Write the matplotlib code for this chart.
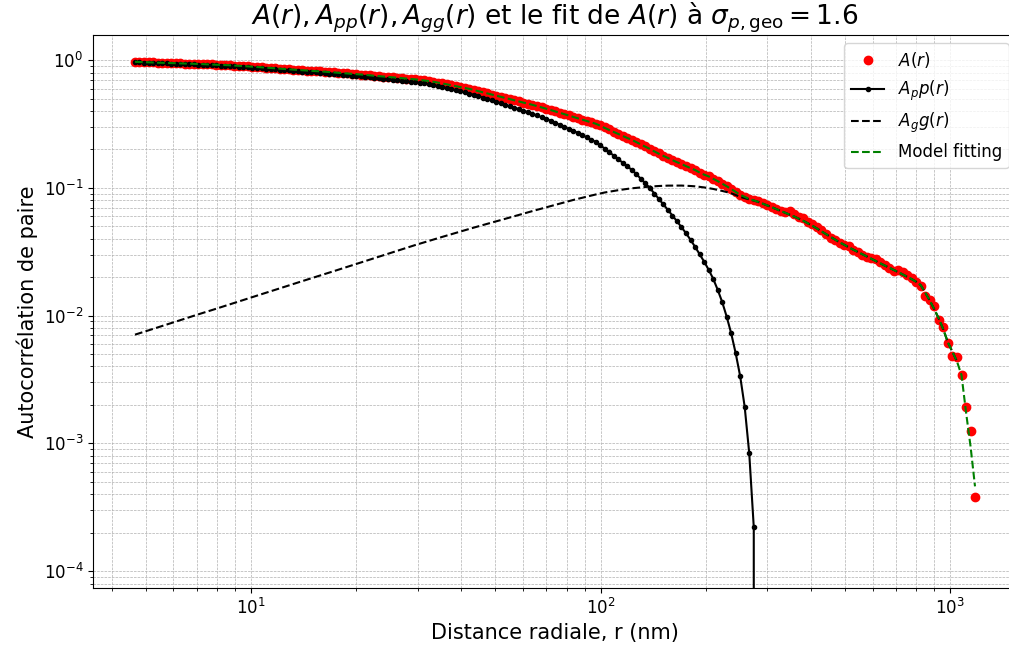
import matplotlib
matplotlib.use("Agg")
import matplotlib.pyplot as plt

# radial distances (nm)
r = [4.66, 4.80, 4.95, 5.10, 5.25, 5.41, 5.57, 5.74, 5.92, 6.09,
     6.28, 6.47, 6.66, 6.86, 7.07, 7.28, 7.50, 7.73, 7.96, 8.20,
     8.45, 8.71, 8.97, 9.24, 9.52, 9.81, 10.10, 10.41, 10.72, 11.04,
     11.38, 11.72, 12.07, 12.44, 12.81, 13.20, 13.60, 14.01, 14.43, 14.87,
     15.32, 15.78, 16.26, 16.75, 17.26, 17.78, 18.31, 18.87, 19.44, 20.02,
     20.63, 21.25, 21.89, 22.55, 23.23, 23.93, 24.65, 25.40, 26.17, 26.96,
     27.77, 28.61, 29.47, 30.37, 31.28, 32.22, 33.19, 34.20, 35.23, 36.30,
     37.39, 38.52, 39.67, 40.88, 42.10, 43.38, 44.68, 46.04, 47.43, 48.86,
     50.33, 51.85, 53.41, 55.04, 56.68, 58.41, 60.15, 61.99, 63.84, 65.79,
     67.76, 69.82, 71.91, 74.09, 76.31, 78.63, 80.98, 83.45, 85.96, 88.56,
     91.23, 93.97, 96.81, 99.75, 102.7, 105.9, 109.0, 112.3, 115.7, 119.2,
     122.8, 126.6, 130.3, 134.3, 138.3, 142.5, 146.8, 151.2, 155.8, 160.5,
     165.3, 170.3, 175.5, 180.8, 186.3, 191.9, 197.7, 203.7, 209.8, 216.1,
     222.7, 229.4, 236.3, 243.4, 250.8, 258.3, 266.1, 274.2, 282.5, 290.9,
     299.7, 308.8, 318.0, 327.7, 337.6, 347.8, 358.3, 369.1, 380.2, 391.7,
     403.6, 415.8, 428.2, 441.2, 454.5, 468.3, 482.4, 497.0, 512.0, 527.4,
     543.3, 559.7, 576.6, 594.1, 612.1, 630.4, 649.4, 669.0, 689.1, 710.0,
     731.4, 753.6, 776.3, 799.7, 823.8, 848.7, 874.2, 900.7, 928.0, 955.9,
     984.7, 1014, 1045, 1077, 1109, 1143, 1177]

A_data = [0.970, 0.967, 0.965, 0.962, 0.959, 0.956, 0.954, 0.951, 0.949, 0.946,
          0.944, 0.941, 0.939, 0.936, 0.934, 0.931, 0.929, 0.925, 0.922, 0.919,
          0.916, 0.912, 0.908, 0.903, 0.899, 0.894, 0.890, 0.884, 0.879, 0.874,
          0.869, 0.863, 0.858, 0.853, 0.848, 0.843, 0.838, 0.834, 0.830, 0.825,
          0.821, 0.816, 0.812, 0.807, 0.803, 0.798, 0.793, 0.788, 0.783, 0.777,
          0.772, 0.766, 0.761, 0.755, 0.750, 0.744, 0.739, 0.734, 0.729, 0.723,
          0.718, 0.713, 0.708, 0.701, 0.694, 0.686, 0.678, 0.668, 0.658, 0.647,
          0.637, 0.626, 0.616, 0.606, 0.596, 0.584, 0.573, 0.561, 0.549, 0.538,
          0.527, 0.516, 0.506, 0.495, 0.485, 0.475, 0.466, 0.456, 0.447, 0.437,
          0.427, 0.417, 0.408, 0.398, 0.388, 0.378, 0.369, 0.360, 0.352, 0.343,
          0.334, 0.326, 0.318, 0.310, 0.298, 0.287, 0.273, 0.265, 0.256, 0.247,
          0.238, 0.229, 0.220, 0.211, 0.203, 0.194, 0.186, 0.178, 0.171, 0.166,
          0.160, 0.154, 0.148, 0.143, 0.138, 0.132, 0.127, 0.123, 0.118, 0.113,
          0.108, 0.103, 0.0985, 0.0935, 0.0880, 0.0850, 0.0820, 0.0800, 0.0784, 0.0757,
          0.0737, 0.0706, 0.0679, 0.0661, 0.0649, 0.0655, 0.0626, 0.0593, 0.0578, 0.0544,
          0.0519, 0.0494, 0.0466, 0.0438, 0.0407, 0.0389, 0.0372, 0.0360, 0.0349, 0.0328,
          0.0313, 0.0300, 0.0289, 0.0284, 0.0279, 0.0264, 0.0250, 0.0237, 0.0225, 0.0226,
          0.0221, 0.0209, 0.0198, 0.0185, 0.0172, 0.0142, 0.0133, 0.0120, 0.00930, 0.00820,
          0.00615, 0.00487, 0.00474, 0.00346, 0.00193, 0.00126, 0.000383]

# the fit lies on the data up to r ~ 93 nm
fit = A_data[:102] + [
       0.318, 0.307, 0.295, 0.284, 0.274, 0.264, 0.255, 0.246,
       0.238, 0.228, 0.219, 0.210, 0.202, 0.193, 0.185, 0.178, 0.171, 0.165,
       0.159, 0.154, 0.148, 0.143, 0.138, 0.132, 0.127, 0.123, 0.118, 0.113,
       0.108, 0.103, 0.0980, 0.0931, 0.0883, 0.0851, 0.0820, 0.0798, 0.0777, 0.0753,
       0.0730, 0.0706, 0.0683, 0.0660, 0.0638, 0.0617, 0.0596, 0.0574, 0.0552, 0.0528,
       0.0505, 0.0481, 0.0457, 0.0435, 0.0414, 0.0394, 0.0375, 0.0359, 0.0343, 0.0329,
       0.0316, 0.0303, 0.0291, 0.0279, 0.0268, 0.0257, 0.0247, 0.0237, 0.0228, 0.0219,
       0.0210, 0.0201, 0.0193, 0.0184, 0.0173, 0.0151, 0.0131, 0.0112, 0.00944, 0.00777,
       0.00617, 0.00523, 0.00439, 0.00342, 0.00177, 0.000947, 0.000461]

Agg = [0.00710, 0.00729, 0.00748, 0.00768, 0.00788, 0.00809, 0.00831, 0.00853, 0.00875, 0.00898,
       0.00922, 0.00946, 0.00970, 0.00997, 0.01024, 0.01050, 0.01076, 0.01105, 0.01134, 0.01164,
       0.01195, 0.01227, 0.01259, 0.01293, 0.01327, 0.01362, 0.01398, 0.01435, 0.01472, 0.01511,
       0.01551, 0.01592, 0.01634, 0.01677, 0.01722, 0.01767, 0.01814, 0.01862, 0.01911, 0.01961,
       0.02013, 0.02064, 0.02117, 0.02173, 0.02230, 0.02289, 0.02350, 0.02412, 0.02475, 0.02541,
       0.02608, 0.02677, 0.02748, 0.02821, 0.02895, 0.02972, 0.03050, 0.03131, 0.03214, 0.03299,
       0.03386, 0.03475, 0.03567, 0.03658, 0.03752, 0.03844, 0.03938, 0.04035, 0.04134, 0.04236,
       0.04340, 0.04447, 0.04557, 0.04665, 0.04775, 0.04888, 0.05003, 0.05121, 0.05242, 0.05357,
       0.05474, 0.05603, 0.05735, 0.05870, 0.06009, 0.06151, 0.06296, 0.06439, 0.06586, 0.06736,
       0.06889, 0.07046, 0.07206, 0.07371, 0.07539, 0.07710, 0.07885, 0.08043, 0.08204, 0.08368,
       0.08535, 0.08706, 0.08880, 0.09042, 0.09206, 0.09340, 0.09475, 0.09595, 0.09716, 0.09822,
       0.09928, 0.1001, 0.1009, 0.1017, 0.1024, 0.1030, 0.1035, 0.1039, 0.1042, 0.1043,
       0.1044, 0.1043, 0.1040, 0.1035, 0.1029, 0.1020, 0.1009, 0.0996, 0.0982, 0.0965,
       0.0947, 0.0928, 0.0907, 0.0880, 0.0850, 0.0832, 0.0812, 0.0796, 0.0777, 0.0753,
       0.0730, 0.0706, 0.0683, 0.0660, 0.0638, 0.0617, 0.0596, 0.0574, 0.0552, 0.0528,
       0.0505, 0.0481, 0.0457, 0.0435, 0.0414, 0.0394, 0.0375, 0.0359, 0.0343, 0.0329,
       0.0316, 0.0303, 0.0291, 0.0279, 0.0268, 0.0257, 0.0247, 0.0237, 0.0228, 0.0219,
       0.0210, 0.0201, 0.0193, 0.0184, 0.0173, 0.0151, 0.0131, 0.0112, 0.00944, 0.00777,
       0.00617, 0.00523, 0.00439]

# Ap p(r) drops to zero past ~280 nm
App = [0.963, 0.960, 0.957, 0.954, 0.951, 0.948, 0.946, 0.943, 0.940, 0.937,
       0.935, 0.932, 0.929, 0.926, 0.924, 0.921, 0.918, 0.914, 0.911, 0.907,
       0.904, 0.899, 0.895, 0.890, 0.886, 0.881, 0.876, 0.870, 0.864, 0.859,
       0.854, 0.848, 0.842, 0.836, 0.831, 0.825, 0.820, 0.815, 0.811, 0.806,
       0.801, 0.796, 0.791, 0.786, 0.781, 0.775, 0.770, 0.764, 0.758, 0.752,
       0.746, 0.740, 0.734, 0.727, 0.721, 0.715, 0.709, 0.703, 0.697, 0.690,
       0.684, 0.678, 0.672, 0.665, 0.657, 0.648, 0.639, 0.628, 0.617, 0.605,
       0.594, 0.582, 0.570, 0.559, 0.548, 0.535, 0.523, 0.510, 0.497, 0.484,
       0.472, 0.460, 0.449, 0.437, 0.425, 0.414, 0.403, 0.392, 0.381, 0.369,
       0.358, 0.347, 0.336, 0.324, 0.313, 0.301, 0.290, 0.280, 0.270, 0.259,
       0.249, 0.2388, 0.2292, 0.2163, 0.2032, 0.1908, 0.1788, 0.1679, 0.1573, 0.1477,
       0.1384, 0.1281, 0.1180, 0.1086, 0.0998, 0.0904, 0.0818, 0.0743, 0.0672, 0.0608,
       0.0549, 0.0493, 0.0442, 0.0392, 0.0346, 0.0303, 0.0265, 0.0229, 0.0195, 0.0160,
       0.0128, 0.00982, 0.00727, 0.00508, 0.00334, 0.00193, 0.00084, 0.000221, 0.0]

fig = plt.figure(figsize=(10.09, 6.55), dpi=100)
ax = fig.add_axes([93 / 1009, 67 / 655, 924 / 1009, 553 / 655])

ax.plot(r, A_data, 'ro', label=r'$A(r)$')
ax.plot(r[:len(App)], App, 'k.-', label=r'$A_pp(r)$')
ax.plot(r[:len(Agg)], Agg, 'k--', label=r'$A_gg(r)$')
ax.plot(r, fit, 'g--', label='Model fitting')

ax.set_xscale('log')
ax.set_yscale('log', nonpositive='clip')
ax.set_ylim(10 ** -4.132, 10 ** 0.197)

ax.set_xlabel('Distance radiale, r (nm)', fontsize=15)
ax.set_ylabel('Autocorrélation de paire', fontsize=15)
ax.set_title(r'$A(r), A_{pp}(r), A_{gg}(r)$ et le fit de $A(r)$ à $\sigma_{p,\mathrm{geo}} = 1.6$',
             fontsize=19)
ax.tick_params(labelsize=12)
ax.grid(True, which='both', ls='--', lw=0.5)
ax.legend(loc='upper right', fontsize=12)

fig.savefig('out.png', dpi=100)
